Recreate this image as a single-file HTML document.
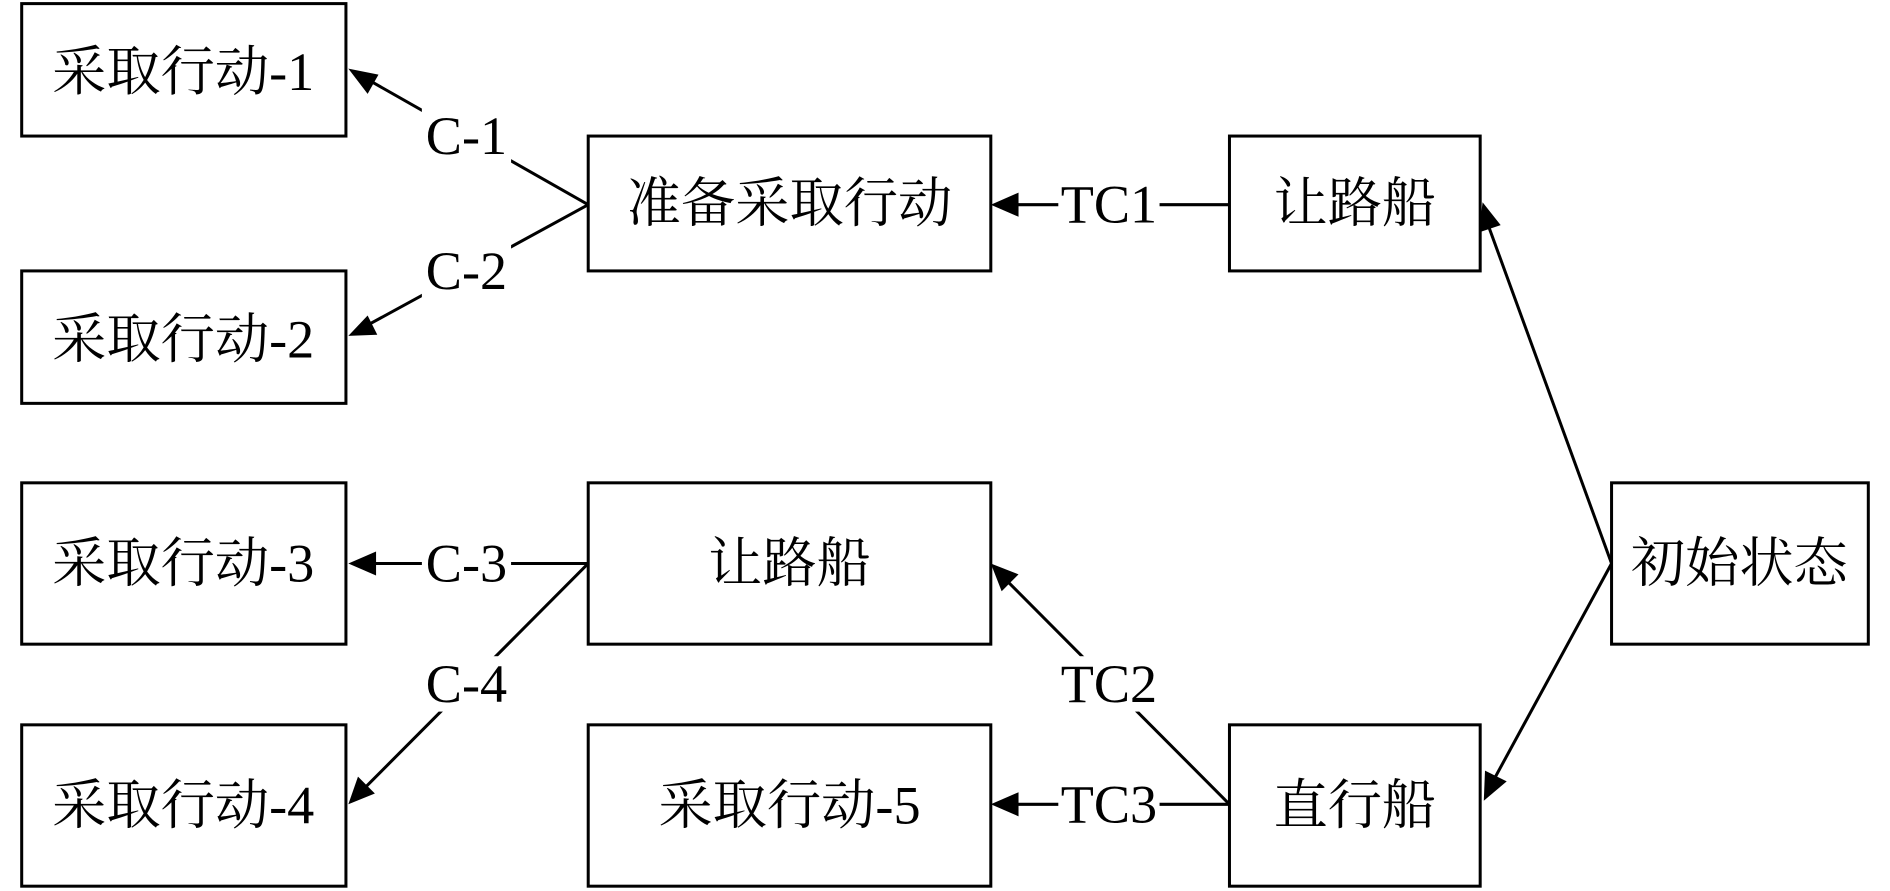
<!DOCTYPE html>
<html><head><meta charset="utf-8"><style>html,body{margin:0;padding:0;background:#fff}svg{display:block}</style></head>
<body>
<svg width="1890" height="891" viewBox="0 0 1568 740" preserveAspectRatio="none" xmlns="http://www.w3.org/2000/svg">
<defs>
<marker id="a" markerWidth="10" markerHeight="8" refX="10" refY="4" orient="auto" markerUnits="userSpaceOnUse" viewBox="0 0 10 8">
</marker>
</defs>
<g fill="none" stroke="#000" stroke-width="2.5">
<rect x="18" y="3" width="269" height="110"/>
<rect x="18" y="225" width="269" height="110"/>
<rect x="488" y="113" width="334" height="112"/>
<rect x="1020" y="113" width="208" height="112"/>
<rect x="18" y="401" width="269" height="134"/>
<rect x="488" y="401" width="334" height="134"/>
<rect x="1337" y="401" width="213" height="134"/>
<rect x="18" y="602" width="269" height="134"/>
<rect x="488" y="602" width="334" height="134"/>
<rect x="1020" y="602" width="208" height="134"/>
<line x1="488" y1="170" x2="305" y2="66"/>
<line x1="488" y1="170" x2="305" y2="270"/>
<line x1="1020" y1="170" x2="840" y2="170"/>
<line x1="488" y1="468" x2="307" y2="468"/>
<line x1="488" y1="468" x2="303" y2="654"/>
<line x1="1020" y1="668" x2="836" y2="483"/>
<line x1="1020" y1="668" x2="840" y2="668"/>
<line x1="1337" y1="468" x2="1235" y2="188"/>
<line x1="1337" y1="468" x2="1238" y2="650"/>
</g>
<g fill="#000">
<polygon points="289,57 314,62 305,78"/>
<polygon points="289,279 305,262 313,278"/>
<polygon points="822,170 845,160 845,180"/>
<polygon points="289,468 312,458 312,478"/>
<polygon points="289,668 297,645 311,659"/>
<polygon points="822,468 845,477 831,491"/>
<polygon points="822,668 845,658 845,678"/>
<polygon points="1230,168 1227,193 1245,187"/>
<polygon points="1231,665 1232,640 1250,649"/>
</g>
<g fill="#fff">
<rect x="350" y="90" width="74" height="46"/>
<rect x="350" y="202" width="74" height="46"/>
<rect x="350" y="445" width="74" height="46"/>
<rect x="350" y="545" width="74" height="46"/>
<rect x="878" y="147" width="84" height="46"/>
<rect x="878" y="545" width="84" height="46"/>
<rect x="878" y="645" width="84" height="46"/>
</g>
<g font-family="'Liberation Serif','Noto Serif CJK SC',serif" font-size="45" fill="#000" text-anchor="middle" dominant-baseline="central">
<text x="152" y="60">采取行动-1</text>
<text x="152" y="282">采取行动-2</text>
<text x="655" y="169">准备采取行动</text>
<text x="1124" y="169">让路船</text>
<text x="152" y="468">采取行动-3</text>
<text x="655" y="468">让路船</text>
<text x="1443" y="468">初始状态</text>
<text x="152" y="669">采取行动-4</text>
<text x="655" y="669">采取行动-5</text>
<text x="1124" y="669">直行船</text>
<text x="387" y="113">C-1</text>
<text x="387" y="225">C-2</text>
<text x="387" y="468">C-3</text>
<text x="387" y="568">C-4</text>
<text x="920" y="170">TC1</text>
<text x="920" y="568">TC2</text>
<text x="920" y="668">TC3</text>
</g>
</svg>
</body></html>
